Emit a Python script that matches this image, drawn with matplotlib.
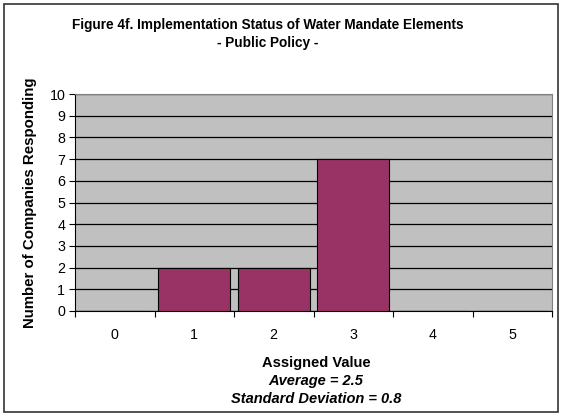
import numpy as np
import matplotlib.pyplot as plt
from matplotlib.patches import Rectangle

plt.rcParams['font.family'] = ['Liberation Sans', 'DejaVu Sans']

# data
values = [0, 1, 2, 3, 4, 5]
counts = [0, 2, 2, 7, 0, 0]
y_ticks = list(range(0, 11))

W, H = 563, 416
fig = plt.figure(figsize=(W / 100, H / 100), dpi=100)

# outer frame of the chart
fig.patches.append(Rectangle((4 / W, 4 / H), (558 - 4) / W, (412 - 4) / H,
                             transform=fig.transFigure, fill=False,
                             edgecolor='#333333', linewidth=1.2))

ax = fig.add_axes([75 / W, 1 - 311 / H, (552 - 75) / W, (311 - 94) / H])
ax.set_facecolor('#C0C0C0')

x = np.arange(len(values))
ax.bar(x, counts, width=0.9, color='#993366', edgecolor='black', linewidth=0.8, zorder=3)

ax.set_xlim(-0.5, len(values) - 0.5)
ax.set_ylim(0, 10)
ax.set_yticks(y_ticks)
ax.yaxis.grid(True, color='black', linewidth=0.9, zorder=1)
ax.set_axisbelow(True)

# ticks on category boundaries, labels at centers
ax.set_xticks(np.arange(-0.5, len(values), 1.0))
ax.set_xticklabels([])
ax.set_xticks(x, minor=True)
ax.set_xticklabels([str(v) for v in values], minor=True, fontsize=10.3)
ax.tick_params(axis='x', which='minor', length=0, pad=12)
ax.tick_params(axis='x', which='major', length=4, width=0.8, direction='out')
ax.tick_params(axis='y', length=4, width=0.8, direction='out', labelsize=10.3, pad=3)

for side in ['top', 'right']:
    ax.spines[side].set_color('#808080')
for side in ['left', 'bottom']:
    ax.spines[side].set_color('black')

ax.set_ylabel('Number of Companies Responding', fontsize=10.8, fontweight='bold')
ax.yaxis.set_label_coords(-38 / (552 - 75), 0.5)

fig.text(0.475, 1 - 25 / H, 'Figure 4f. Implementation Status of Water Mandate Elements',
         ha='center', va='center', fontsize=9.8, fontweight='bold')
fig.text(0.475, 1 - 43 / H, '- Public Policy -', ha='center', va='center',
         fontsize=9.8, fontweight='bold')

fig.text(316 / W, 1 - 363 / H, 'Assigned Value', ha='center', va='center',
         fontsize=10.5, fontweight='bold')
fig.text(316 / W, 1 - 381 / H, 'Average = 2.5', ha='center', va='center',
         fontsize=10.5, fontweight='bold', style='italic')
fig.text(316 / W, 1 - 399 / H, 'Standard Deviation = 0.8', ha='center', va='center',
         fontsize=10.5, fontweight='bold', style='italic')

fig.savefig('out.png', dpi=100)
